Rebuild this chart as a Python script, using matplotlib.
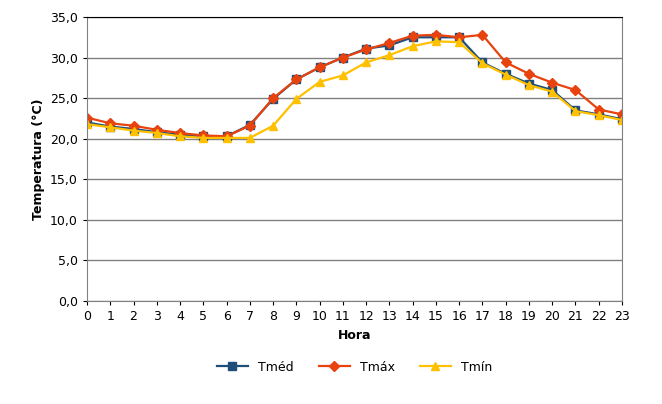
import matplotlib.pyplot as plt

hours = list(range(24))
tmed = [22.0, 21.5, 21.2, 20.8, 20.5, 20.3, 20.3, 21.7, 24.9, 27.3, 28.8, 30.0,
        31.1, 31.5, 32.5, 32.5, 32.5, 29.4, 28.0, 26.8, 26.0, 23.5, 23.0, 22.4]
tmax = [22.6, 21.9, 21.6, 21.1, 20.7, 20.4, 20.3, 21.6, 25.0, 27.3, 28.8, 30.0,
        31.0, 31.8, 32.7, 32.8, 32.5, 32.8, 29.4, 28.0, 26.9, 26.0, 23.6, 23.0]
tmin = [21.8, 21.4, 21.0, 20.7, 20.3, 20.1, 20.1, 20.1, 21.6, 24.9, 27.0, 27.8,
        29.4, 30.3, 31.4, 32.0, 31.9, 29.3, 27.9, 26.6, 25.8, 23.4, 22.9, 22.3]
yticks = [0, 5, 10, 15, 20, 25, 30, 35]

fig = plt.figure(figsize=(6.62, 4.04), dpi=100)
ax = fig.add_axes([87 / 662, 1 - 301 / 404, (622 - 87) / 662, (301 - 17) / 404])

ax.plot(hours, tmed, color='#1f4e79', marker='s', markersize=6, lw=1.6, label='Tméd')
ax.plot(hours, tmax, color='#e8420e', marker='D', markersize=5, lw=1.6, label='Tmáx')
ax.plot(hours, tmin, color='#ffc000', marker='^', markersize=6, lw=1.6, label='Tmín')

ax.set_xlim(0, 23)
ax.set_ylim(0, 35)
ax.set_xticks(hours)
ax.set_yticks(yticks)
ax.set_yticklabels([f'{v:.1f}'.replace('.', ',') for v in yticks])
ax.tick_params(labelsize=9, length=3)
ax.yaxis.grid(True, color='#808080', lw=1)
ax.set_axisbelow(True)
ax.spines['top'].set_color('black')
ax.spines['top'].set_linewidth(0.8)
ax.spines['right'].set_color('#808080')
ax.spines['left'].set_color('#808080')
ax.spines['bottom'].set_color('#808080')

ax.set_xlabel('Hora', fontsize=9, fontweight='bold', labelpad=4)
ax.set_ylabel('Temperatura (°C)', fontsize=9, fontweight='bold')
ax.legend(loc='upper center', bbox_to_anchor=(0.5, -0.17), ncol=3, frameon=False,
          fontsize=9, handlelength=2.5, columnspacing=2)

fig.savefig('out.png', dpi=100)
